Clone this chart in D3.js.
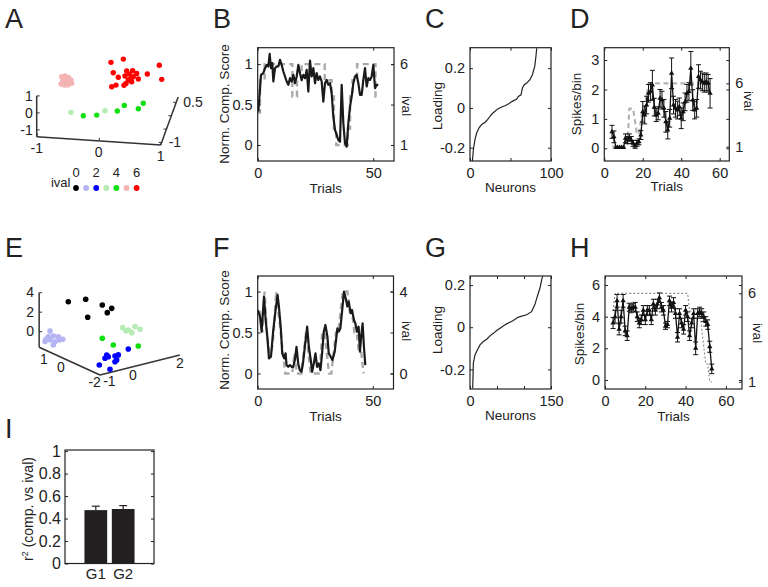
<!DOCTYPE html>
<html>
<head>
<meta charset="utf-8">
<script src="https://cdn.jsdelivr.net/npm/d3@7/dist/d3.min.js"></script>
<style>
html,body{margin:0;padding:0;background:#fff;}
svg{display:block;}
</style>
</head>
<body>
<svg id="fig" width="768" height="587"></svg>
<script>
// ================= DATA =================
const ivalLevels = [0,1,2,3,4,5,6];
const ivalColors = ["#000000","#b4b4f2","#0000ff","#b4ecb4","#10e010","#f4b4b4","#ff0000"];
const legendTickLabels = [0,2,4,6];

// Panel A : 3-D component scores (x, depth, z) and ival of each point
const aX = [0.026,0.225,0.063,0.144,0.252,0.28,0.321,0.376,0.441,0.305,0.268,0.36,0.107,0.038,0.236,0.612,0.805,0.844,0.467,0.386,0.344,
  -0.769,-0.716,-0.662,-0.619,-0.753,-0.70,-0.646,-0.78,-0.727,-0.672,-0.608,-0.743,-0.688,
  -0.42,-0.204,0.128,0.241,0.467,0.547,
  -0.619,-0.07];
const aDepth = [0,0,0,0,0,0,0,0,0,0,0,0,0,0,0,0,0,0,0,0,0,
  0,0,0,0,0,0,0,0,0,0,0,0,0,
  0,0,0,0,0,0,
  0,0];
const aZ = [1.50,1.74,0.90,0.65,0.75,1.05,0.88,1.09,0.95,0.53,0.32,0.44,0.18,0.07,0.20,0.96,1.52,0.70,0.63,0.74,0.61,
  0.456,0.51,0.447,0.30,0.207,0.179,0.134,0.024,-0.022,-0.008,0.108,0.309,0.323,
  -1.75,-1.66,-1.34,-0.98,-1.12,-0.78,
  -1.6,-1.37];
const aIval = [6,6,6,6,6,6,6,6,6,6,6,6,6,6,6,6,6,6,6,6,6,
  5,5,5,5,5,5,5,5,5,5,5,5,5,
  4,4,4,4,4,4,
  3,3];
const aTicksZ = [-1,0,1], aTicksX = [-1,0,1], aTicksDepth = [-1,0.5];

// Panel B : normalised component score and ival per trial
const bTrial = [0.27,1.43,2.44,3.16,3.88,4.6,5.18,5.76,6.33,6.77,7.49,8.21,8.93,9.65,10.38,11.1,11.82,12.54,13.26,13.98,14.7,15.43,16.15,16.87,17.59,18.31,19.03,19.75,20.48,21.2,21.92,22.64,23.36,24.08,24.81,25.53,26.25,26.97,27.69,28.41,29.13,29.86,30.58,31.3,32.02,32.74,33.46,34.19,34.9,35.63,36.35,37.07,37.79,38.51,39.23,39.96,40.68,41.4,42.12,42.84,43.56,44.29,45.01,45.73,46.45,47.17,47.89,48.61,49.34,50.06,50.78,51.5,52.22];
const bScore = [0.413,0.867,0.888,0.95,0.99,0.971,1.128,0.95,1.012,0.785,0.95,0.971,0.971,1.053,0.99,0.909,0.847,0.785,0.744,0.826,0.785,0.867,0.764,0.847,0.99,0.888,0.805,0.867,0.826,0.929,0.661,1.045,0.847,0.95,0.764,0.888,0.805,0.847,0.785,0.537,0.764,0.805,0.744,0.764,0.64,0.351,0.186,0.124,0.062,0.041,0.744,0.269,0.021,-0.021,0.269,0.475,0.599,0.764,0.847,0.867,0.764,0.62,0.62,0.805,0.95,0.723,0.826,0.805,0.847,0.99,0.702,0.744,0.744];
const bIvalTrial = [0,1,2,3,4,5,6,7,8,9,10,11,12,13,14,15,16,17,18,19,20,21,22,23,24,25,26,27,28,29,30,31,32,33,34,35,36,37,38,39,40,41,42,43,44,45,46,47,48,49,50,51,52];
const bIval = [3,5,5,6,6,6,6,6,6,6,6,6,6,6,6,4,4,5,5,6,6,6,6,6,6,6,6,6,6,5,5,5,4,2,1,1,1,1,1,2,4,5,5,6,6,6,6,6,6,6,6,4,4];

// Panel C : sorted neuron loadings
const cNeuron = [3,4.2,6.2,8.3,11.2,14.5,18.6,21.9,24.7,27.6,30.9,34.2,39.2,44.1,48.2,52.3,57.7,59.7,63,64.7,67,70,74,77,80,81.4,82.4];
const cLoading = [-0.267,-0.208,-0.158,-0.125,-0.1,-0.083,-0.072,-0.058,-0.042,-0.028,-0.017,-0.005,0.005,0.012,0.022,0.033,0.045,0.058,0.066,0.1,0.117,0.125,0.142,0.167,0.21,0.26,0.30];

// Panel D : spikes/bin (mean, sem) and ival per trial
const dTrial = [4,5,6,7,8,9,10,11,12,13,14,15,16,17,18,19,20,21,22,23,24,25,26,27,28,29,30,31,32,33,34,35,36,37,38,39,40,41,42,43,44,45,46,47,48,49,50,51,52,53,54,55];
const dMean = [0.56,0.39,0.03,0.03,0.03,0.03,0.03,0.34,0.28,0.37,0.28,0.17,0.08,0.17,0.22,0.45,1.24,1.13,1.47,1.87,1.93,2.15,1.40,1.13,1.19,1.70,1.64,1.36,0.90,0.62,1.02,2.55,1.47,1.36,1.30,1.41,1.02,1.24,1.58,1.87,1.93,2.72,1.64,1.30,1.36,2.44,2.32,2.26,2.21,2.26,2.21,1.87];
const dErr = [0.22,0.2,0,0,0,0,0,0.15,0.12,0.12,0.12,0.1,0.08,0.1,0.1,0.15,0.35,0.3,0.3,0.3,0.3,0.5,0.3,0.22,0.22,0.3,0.3,0.3,0.35,0.3,0.3,0.52,0.3,0.3,0.3,0.3,0.35,0.3,0.3,0.3,0.3,0.57,0.35,0.3,0.3,0.4,0.3,0.3,0.3,0.3,0.3,0.5];
const dIval = [1,1,1,1,1,1,1,1,1,4,4,4,3,2,2,3,4,4,5,6,6,6,6,6,6,6,6,6,6,6,6,6,6,6,6,6,6,6,6,6,6,6,6,6,6,6,6,6,6,6,6,6];

// Panel E : 3-D component scores (u, v, z) and ival
const eU = [2.705,2.51,2.214,1.954,2.942,2.705,2.41,2.51,2.806,2.155,3.0,
  1.622,0.593,-0.389,-0.946,-0.685,0.475,
  -1.596,-1.928,-2.324,-2.62,-2.129,-1.792,
  -0.389,-1.04,-2.52,
  -0.65,-0.744,-1.141,-1.336,-1.928,-1.241,-1.141,-0.549,-0.212,-0.845];
const eV = [0,0,0,0,0,0,0,0,0,0,0, 0,0,0,0,0,0, 0,0,0,0,0,0, 0,0,0, 0,0,0,0,0,0,0,0,0,0];
const eZ = [-1.81,-2.17,-2.02,-2.06,-2.85,-2.73,-2.67,-3.09,-2.47,-2.30,-3.12,
  2.05,3.11,3.30,3.40,2.75,1.36,
  1.93,1.95,2.62,2.58,1.84,1.77,
  -0.11,-0.29,0.78,
  -1.62,-1.72,-1.33,-1.07,0.005,-1.67,-1.92,-2.04,-2.99,-2.93];
const eIval = [1,1,1,1,1,1,1,1,1,1,1, 0,0,0,0,0,0, 3,3,3,3,3,3, 4,4,4, 2,2,2,2,2,2,2,2,2,2];
const eTicksZ = [0,2,4], eTicksU = [1,0,-2], eTicksV = [-1,0,2];

// Panel F
const fTrial = [0,1.0,1.72,2.73,3.45,4.31,4.89,5.76,6.77,7.78,8.64,9.22,10.09,10.66,11.53,12.11,12.54,13.26,13.98,14.7,15.43,16.15,16.87,17.59,18.31,19.03,19.75,20.48,21.49,22.21,23.07,23.65,24.37,25.1,25.81,26.54,27.26,27.98,28.7,29.42,30.29,30.87,31.73,32.45,33.46,34.62,35.19,35.92,36.64,37.5,38.23,38.95,39.52,40.39,40.97,41.83,42.41,43.13,43.85,44.43,45.01,45.58,46.16,46.74];
const fScore = [0.776,0.694,0.51,0.939,0.653,0.408,0.183,0.204,0.531,0.776,0.96,0.817,0.531,0.245,0.183,0.245,0.102,0.081,0.102,0.081,0.081,0.163,0.326,0.122,0.04,0.02,0.143,0.326,0.571,0.326,0.163,0.02,0.122,0.245,0.081,0.122,0.04,0.245,0.51,0.592,0.449,0.245,0.204,0.163,0.265,0.551,0.51,0.551,0.755,1.0,0.919,0.817,0.878,0.735,0.776,0.653,0.612,0.51,0.571,0.265,0.469,0.612,0.326,0.102];
const fIvalTrial = [0,1,2,3,4,5,6,7,8,9,10,11,12,13,14,15,16,17,18,19,20,21,22,23,24,25,26,27,28,29,30,31,32,33,34,35,36,37,38,39,40,41,42,43,44,45,46];
const fIval = [3,3,2,4,2,1,1,2,4,3,2,1,0,0,0,0,1,0,0,0,1,2,1,0,0,0,0,0,2,2,1,0,0,1,2,2,3,4,4,4,3,3,2,2,1,1,0];

// Panel G
const gNeuron = [5,6.2,9.3,13.6,18.5,24.7,30.9,37,43.2,49.4,55.6,61.7,67.9,74,80.2,89.5,92.6,105,114,120,124.6,129.6,132.7,134.6];
const gLoading = [-0.29,-0.17,-0.13,-0.108,-0.084,-0.068,-0.057,-0.041,-0.029,-0.016,-0.005,0.006,0.016,0.024,0.032,0.048,0.05,0.059,0.074,0.106,0.146,0.186,0.225,0.241];

// Panel H
const hTrial = [4,5,6,7,8,9,10,11,12,13,14,15,16,17,18,19,20,21,22,23,24,25,26,27,28,29,30,31,32,33,34,35,36,37,38,39,40,41,42,43,44,45,46,47,48,49,50,51,52,53];
const hMean = [3.6,4.0,5.0,3.2,4.0,5.0,3.1,2.8,4.6,4.5,4.6,4.6,4.0,3.6,3.8,4.4,3.8,4.4,4.4,3.8,4.8,4.4,4.8,5.2,4.6,4.4,3.4,3.5,5.0,4.6,4.9,4.2,2.7,4.2,3.6,3.2,4.4,4.0,2.8,3.6,4.2,2.0,4.2,4.3,4.2,4.0,3.7,3.5,2.1,0.7];
const hErr = [0.35,0.40,0.40,0.35,0.40,0.40,0.30,0.30,0.25,0.25,
  0.25,0.30,0.30,0.30,0.30,0.30,0.30,0.30,0.30,0.30,
  0.30,0.30,0.30,0.30,0.30,0.30,0.20,0.20,0.30,0.30,
  0.30,0.30,0.30,0.30,0.30,0.30,0.30,0.30,0.30,0.30,
  0.30,0.40,0.30,0.30,0.30,0.30,0.30,0.30,0.35,0.30];
const hIval = [5,6,6,6,6,6,6,6,6,6,6,6,6,6,6,6,6,6,6,6,6,6,6,6,6,6,6,6,6,6,6,6,6,6,6,6,6,6,5,5,5,5,5,5,4,3,2,2,1,1];

// Panel I
const iGroups = ["G1","G2"];
const iMean = [0.475,0.485];
const iErr = [0.035,0.03];
const iTicks = [0,0.2,0.4,0.6,0.8,1];

// ================= DRAWING =================
const svg = d3.select("#fig");
const FONT = "'Liberation Sans', Arial, Helvetica, sans-serif";
const INK = "#222";

function addText(x, y, s, fs, anchor, rot) {
  const t = svg.append("text").attr("font-family", FONT).attr("font-size", fs)
    .attr("fill", INK).attr("text-anchor", anchor || "middle");
  if (rot) t.attr("transform", `translate(${x},${y}) rotate(${rot})`);
  else t.attr("x", x).attr("y", y);
  t.text(s);
  return t;
}
function addAxis(axis, tx, ty, fs) {
  const g = svg.append("g").attr("transform", `translate(${tx},${ty})`).call(axis);
  g.select(".domain").remove();
  g.attr("font-family", FONT).attr("font-size", fs).attr("color", INK);
  g.selectAll("line").attr("stroke-width", 1);
  return g;
}
function panel2d(id, o) {
  const x = d3.scaleLinear().domain(o.xd).range([o.L, o.R]);
  const y = d3.scaleLinear().domain(o.yd).range([o.B, o.T]);
  const yr = o.yrd ? d3.scaleLinear().domain(o.yrd).range([o.B, o.T]) : null;
  svg.append("clipPath").attr("id", "clip" + id).append("rect")
    .attr("x", o.L).attr("y", o.T).attr("width", o.R - o.L).attr("height", o.B - o.T);
  const plot = svg.append("g").attr("clip-path", `url(#clip${id})`);
  const fs = 14.5;
  const lab = arr => d => arr.includes(d) ? String(d) : "";
  addAxis(d3.axisBottom(x).tickValues(o.xt).tickSize(-3).tickPadding(7).tickFormat(lab(o.xl || o.xt)), 0, o.B, fs);
  addAxis(d3.axisTop(x).tickValues(o.xt).tickSize(-3).tickFormat(() => ""), 0, o.T, fs);
  addAxis(d3.axisLeft(y).tickValues(o.yt).tickSize(-3).tickPadding(5).tickFormat(lab(o.yt)), o.L, 0, fs);
  addAxis(d3.axisRight(y).tickValues(o.yt).tickSize(-3).tickFormat(() => ""), o.R, 0, fs);
  if (yr) addAxis(d3.axisRight(yr).tickValues(o.yrt).tickSize(-3).tickPadding(6).tickFormat(d => String(d)), o.R, 0, fs);
  svg.append("rect").attr("x", o.L).attr("y", o.T).attr("width", o.R - o.L).attr("height", o.B - o.T)
    .attr("fill", "none").attr("stroke", INK).attr("stroke-width", 1.2);
  if (o.xlab) addText((o.L + o.R) / 2, o.B + o.xlabDy, o.xlab, 13.5);
  if (o.ylab) addText(o.ylabX, o.ylabY, o.ylab, 13.5, "middle", -90);
  if (o.yrlab) addText(o.yrlabX, o.yrlabY, o.yrlab, 13.5, "middle", 90);
  return { x, y, yr, plot };
}
function drawErrSeries(p, tr, mean, err, ival, dotted) {
  p.plot.append("path").datum(ival)
    .attr("d", d3.line().x((d, i) => p.x(tr[i])).y(d => p.yr(d)))
    .attr("fill", "none").attr("stroke", dotted ? "#8a8a8a" : "#b3b3b3")
    .attr("stroke-width", dotted ? 1.1 : 2.2)
    .attr("stroke-dasharray", dotted ? "2,2" : "5,3.5");
  const eg = p.plot.append("g").attr("stroke", "#111").attr("stroke-width", 1);
  mean.forEach((m, i) => {
    if (err[i] <= 0) return;
    const xx = p.x(tr[i]), y1 = p.y(m - err[i]), y2 = p.y(m + err[i]);
    eg.append("line").attr("x1", xx).attr("x2", xx).attr("y1", y1).attr("y2", y2);
    eg.append("line").attr("x1", xx - 2.5).attr("x2", xx + 2.5).attr("y1", y1).attr("y2", y1);
    eg.append("line").attr("x1", xx - 2.5).attr("x2", xx + 2.5).attr("y1", y2).attr("y2", y2);
  });
  p.plot.append("path").datum(mean)
    .attr("d", d3.line().x((d, i) => p.x(tr[i])).y(d => p.y(d)))
    .attr("fill", "none").attr("stroke", "#111").attr("stroke-width", 1.3).attr("stroke-linejoin", "round");
  p.plot.append("g").selectAll("path").data(mean).join("path")
    .attr("d", d3.symbol(d3.symbolTriangle, 12))
    .attr("transform", (d, i) => `translate(${p.x(tr[i])},${p.y(d)})`)
    .attr("fill", "#111");
}

// ---- panel letters ----
const letterPos = { A: [5, 28], B: [213, 28], C: [425, 28], D: [570, 28], E: [5, 257], F: [213, 257], G: [425, 257], H: [570, 257], I: [5, 438] };
Object.keys(letterPos).forEach(k => addText(letterPos[k][0], letterPos[k][1], k, 27, "start"));

// ---- Panel A ----
(function () {
  const proj = (x, y, z) => [36.7 + 62 * (x + 1) + 9.7 * (y + 1.1), 136.7 + 4.2 * (x + 1) - 26.7 * (y + 1.1) - 17 * (z + 1.4)];
  const g = svg.append("g").attr("stroke", "#333").attr("stroke-width", 1.5).attr("fill", "none");
  const seg = (a, b) => g.append("line").attr("x1", a[0]).attr("y1", a[1]).attr("x2", b[0]).attr("y2", b[1]);
  seg(proj(-1, -1.1, -1.4), proj(-1, -1.1, 1));
  seg(proj(-1, -1.1, -1.4), proj(1, -1.1, -1.4));
  seg(proj(1, -1.1, -1.4), proj(1, 0.7, -1.4));
  const tg = svg.append("g").attr("stroke", "#333").attr("stroke-width", 1);
  aTicksZ.forEach(t => { const p = proj(-1, -1.1, t); tg.append("line").attr("x1", p[0]).attr("x2", p[0] + 3).attr("y1", p[1]).attr("y2", p[1]); addText(p[0] - 4, p[1] + 5, String(t), 14, "end"); });
  aTicksX.forEach(t => { const p = proj(t, -1.1, -1.4); tg.append("line").attr("x1", p[0]).attr("x2", p[0] + 1).attr("y1", p[1]).attr("y2", p[1] - 3); addText(p[0], p[1] + 16, String(t), 14); });
  [-1, -0.5, 0, 0.5].forEach(t => { const p = proj(1, t, -1.4); tg.append("line").attr("x1", p[0]).attr("x2", p[0] - 3).attr("y1", p[1]).attr("y2", p[1]); });
  aTicksDepth.forEach(t => { const p = proj(1, t, -1.4); addText(p[0] + 7, p[1] + 4.5, String(t), 14, "start"); });
  const col = d3.scaleOrdinal().domain(ivalLevels).range(ivalColors);
  svg.append("g").selectAll("circle").data(aX).join("circle")
    .attr("cx", (d, i) => proj(aX[i], aDepth[i], aZ[i])[0])
    .attr("cy", (d, i) => proj(aX[i], aDepth[i], aZ[i])[1])
    .attr("r", 2.7).attr("fill", (d, i) => col(aIval[i]));
  // legend
  const lx = d3.scalePoint().domain(ivalLevels).range([76, 136.6]);
  addText(70.5, 187, "ival", 13, "end");
  legendTickLabels.forEach(v => addText(lx(v), 177, String(v), 13));
  svg.append("g").selectAll("circle").data(ivalLevels).join("circle")
    .attr("cx", d => lx(d)).attr("cy", 188).attr("r", 2.9).attr("fill", d => col(d));
})();

// ---- Panel B ----
(function () {
  const p = panel2d("B", { L: 257.7, R: 394, T: 47.7, B: 161, xd: [0, 59], yd: [-0.198, 1.203], yrd: [0.01, 7.015],
    xt: [0, 50], yt: [0, 0.5, 1], yrt: [1, 6], xlab: "Trials", xlabDy: 32, ylab: "Norm. Comp. Score", ylabX: 229, ylabY: 104,
    yrlab: "ival", yrlabX: 401.5, yrlabY: 106 });
  p.plot.append("path").datum(bIval).attr("d", d3.line().curve(d3.curveStepAfter).x((d, i) => p.x(bIvalTrial[i])).y(d => p.yr(d)))
    .attr("fill", "none").attr("stroke", "#aaaaaa").attr("stroke-width", 2.4).attr("stroke-dasharray", "6,4");
  p.plot.append("path").datum(bScore).attr("d", d3.line().x((d, i) => p.x(bTrial[i])).y(d => p.y(d)))
    .attr("fill", "none").attr("stroke", "#1a1a1a").attr("stroke-width", 2.2).attr("stroke-linejoin", "round");
})();

// ---- Panel C ----
(function () {
  const p = panel2d("C", { L: 470, R: 551, T: 47.7, B: 161, xd: [0, 100], yd: [-0.267, 0.303],
    xt: [0, 50, 100], xl: [0, 100], yt: [-0.2, 0, 0.2], xlab: "Neurons", xlabDy: 31, ylab: "Loading", ylabX: 442, ylabY: 106 });
  p.plot.append("path").datum(cLoading).attr("d", d3.line().x((d, i) => p.x(cNeuron[i])).y(d => p.y(d)))
    .attr("fill", "none").attr("stroke", "#222").attr("stroke-width", 1.2);
})();

// ---- Panel D ----
(function () {
  const p = panel2d("D", { L: 604.3, R: 729.3, T: 47.7, B: 161, xd: [0, 65], yd: [-0.431, 3.42], yrd: [-0.128, 8.81],
    xt: [0, 20, 40, 60], yt: [0, 1, 2, 3], yrt: [1, 6], xlab: "Trials", xlabDy: 30, ylab: "Spikes/bin", ylabX: 581, ylabY: 104,
    yrlab: "ival", yrlabX: 744, yrlabY: 101 });
  drawErrSeries(p, dTrial, dMean, dErr, dIval, false);
})();

// ---- Panel E ----
(function () {
  const proj = (u, v, z) => [100 - 16.9 * (u + 2.2) + 23.5 * (v + 1.4), 375 - 7.7 * (u + 2.2) - 5.9 * (v + 1.4) - 9.75 * (z + 1.6)];
  const g = svg.append("g").attr("stroke", "#333").attr("stroke-width", 1.5);
  const seg = (a, b) => g.append("line").attr("x1", a[0]).attr("y1", a[1]).attr("x2", b[0]).attr("y2", b[1]);
  seg(proj(1.4, -1.4, -1.6), proj(1.4, -1.4, 4));
  seg(proj(1.4, -1.4, -1.6), proj(-2.2, -1.4, -1.6));
  seg(proj(-2.2, -1.4, -1.6), proj(-2.2, 2, -1.6));
  const tg = svg.append("g").attr("stroke", "#333").attr("stroke-width", 1);
  eTicksZ.forEach(t => { const p = proj(1.4, -1.4, t); tg.append("line").attr("x1", p[0]).attr("x2", p[0] + 3).attr("y1", p[1]).attr("y2", p[1]); addText(p[0] - 5, p[1] + 4.5, String(t), 14, "end"); });
  eTicksU.forEach(t => { const p = proj(t, -1.4, -1.6); addText(p[0] - 2, p[1] + 13.5, String(t), 14); });
  eTicksV.forEach(t => { const p = proj(-2.2, t, -1.6); addText(p[0], p[1] + 13, String(t), 14); });
  const col = d3.scaleOrdinal().domain(ivalLevels).range(ivalColors);
  svg.append("g").selectAll("circle").data(eU).join("circle")
    .attr("cx", (d, i) => proj(eU[i], eV[i], eZ[i])[0])
    .attr("cy", (d, i) => proj(eU[i], eV[i], eZ[i])[1])
    .attr("r", 2.8).attr("fill", (d, i) => col(eIval[i]));
})();

// ---- Panel F ----
(function () {
  const p = panel2d("F", { L: 257.7, R: 393.5, T: 276, B: 389, xd: [0, 59], yd: [-0.19, 1.19], yrd: [-0.76, 4.76],
    xt: [0, 50], yt: [0, 0.5, 1], yrt: [0, 4], xlab: "Trials", xlabDy: 32, ylab: "Norm. Comp. Score", ylabX: 229, ylabY: 330,
    yrlab: "ival", yrlabX: 401.5, yrlabY: 331 });
  p.plot.append("path").datum(fIval).attr("d", d3.line().x((d, i) => p.x(fIvalTrial[i])).y(d => p.yr(d)))
    .attr("fill", "none").attr("stroke", "#aaaaaa").attr("stroke-width", 2.4).attr("stroke-dasharray", "6,4");
  p.plot.append("path").datum(fScore).attr("d", d3.line().x((d, i) => p.x(fTrial[i])).y(d => p.y(d)))
    .attr("fill", "none").attr("stroke", "#1a1a1a").attr("stroke-width", 2.2).attr("stroke-linejoin", "round");
})();

// ---- Panel G ----
(function () {
  const p = panel2d("G", { L: 470, R: 551, T: 276, B: 389, xd: [0, 150], yd: [-0.293, 0.243],
    xt: [0, 50, 100, 150], xl: [0, 150], yt: [-0.2, 0, 0.2], xlab: "Neurons", xlabDy: 31, ylab: "Loading", ylabX: 442, ylabY: 330 });
  p.plot.append("path").datum(gLoading).attr("d", d3.line().x((d, i) => p.x(gNeuron[i])).y(d => p.y(d)))
    .attr("fill", "none").attr("stroke", "#222").attr("stroke-width", 1.2);
})();

// ---- Panel H ----
(function () {
  const p = panel2d("H", { L: 605, R: 742, T: 276, B: 389, xd: [0, 68], yd: [-0.57, 6.57], yrd: [0.59, 6.98],
    xt: [0, 20, 40, 60], yt: [0, 2, 4, 6], yrt: [1, 6], xlab: "Trials", xlabDy: 32, ylab: "Spikes/bin", ylabX: 584, ylabY: 334,
    yrlab: "ival", yrlabX: 753, yrlabY: 333 });
  drawErrSeries(p, hTrial, hMean, hErr, hIval, true);
})();

// ---- Panel I ----
(function () {
  const L = 65, R = 154, T = 450, B = 563.5;
  const x = d3.scaleBand().domain(iGroups).range([L, R]).paddingInner(0.17).paddingOuter(0.71);
  const y = d3.scaleLinear().domain([0, 1.01]).range([B, T]);
  svg.append("g").selectAll("rect").data(iMean).join("rect")
    .attr("x", (d, i) => x(iGroups[i])).attr("width", x.bandwidth())
    .attr("y", d => y(d)).attr("height", d => B - y(d)).attr("fill", "#231f20");
  const eg = svg.append("g").attr("stroke", "#231f20").attr("stroke-width", 1.2);
  iMean.forEach((m, i) => {
    const cx = x(iGroups[i]) + x.bandwidth() / 2;
    eg.append("line").attr("x1", cx).attr("x2", cx).attr("y1", y(m)).attr("y2", y(m + iErr[i]));
    eg.append("line").attr("x1", cx - 4).attr("x2", cx + 4).attr("y1", y(m + iErr[i])).attr("y2", y(m + iErr[i]));
  });
  addAxis(d3.axisLeft(y).tickValues(iTicks).tickSize(-3).tickPadding(4).tickFormat(d => String(d)), L, 0, 16);
  addAxis(d3.axisRight(y).tickValues(iTicks).tickSize(-3).tickFormat(() => ""), R, 0, 16);
  addAxis(d3.axisBottom(x).tickSize(0).tickPadding(5), 0, B, 15);
  svg.append("rect").attr("x", L).attr("y", T).attr("width", R - L).attr("height", B - T)
    .attr("fill", "none").attr("stroke", INK).attr("stroke-width", 1.2);
  const t = svg.append("text").attr("transform", `translate(33,509) rotate(-90)`)
    .attr("font-family", FONT).attr("font-size", 14).attr("fill", INK).attr("text-anchor", "middle");
  t.append("tspan").text("r");
  t.append("tspan").attr("dy", -5).attr("font-size", 9).text("2");
  t.append("tspan").attr("dy", 5).text(" (comp. vs ival)");
})();
</script>
</body>
</html>
